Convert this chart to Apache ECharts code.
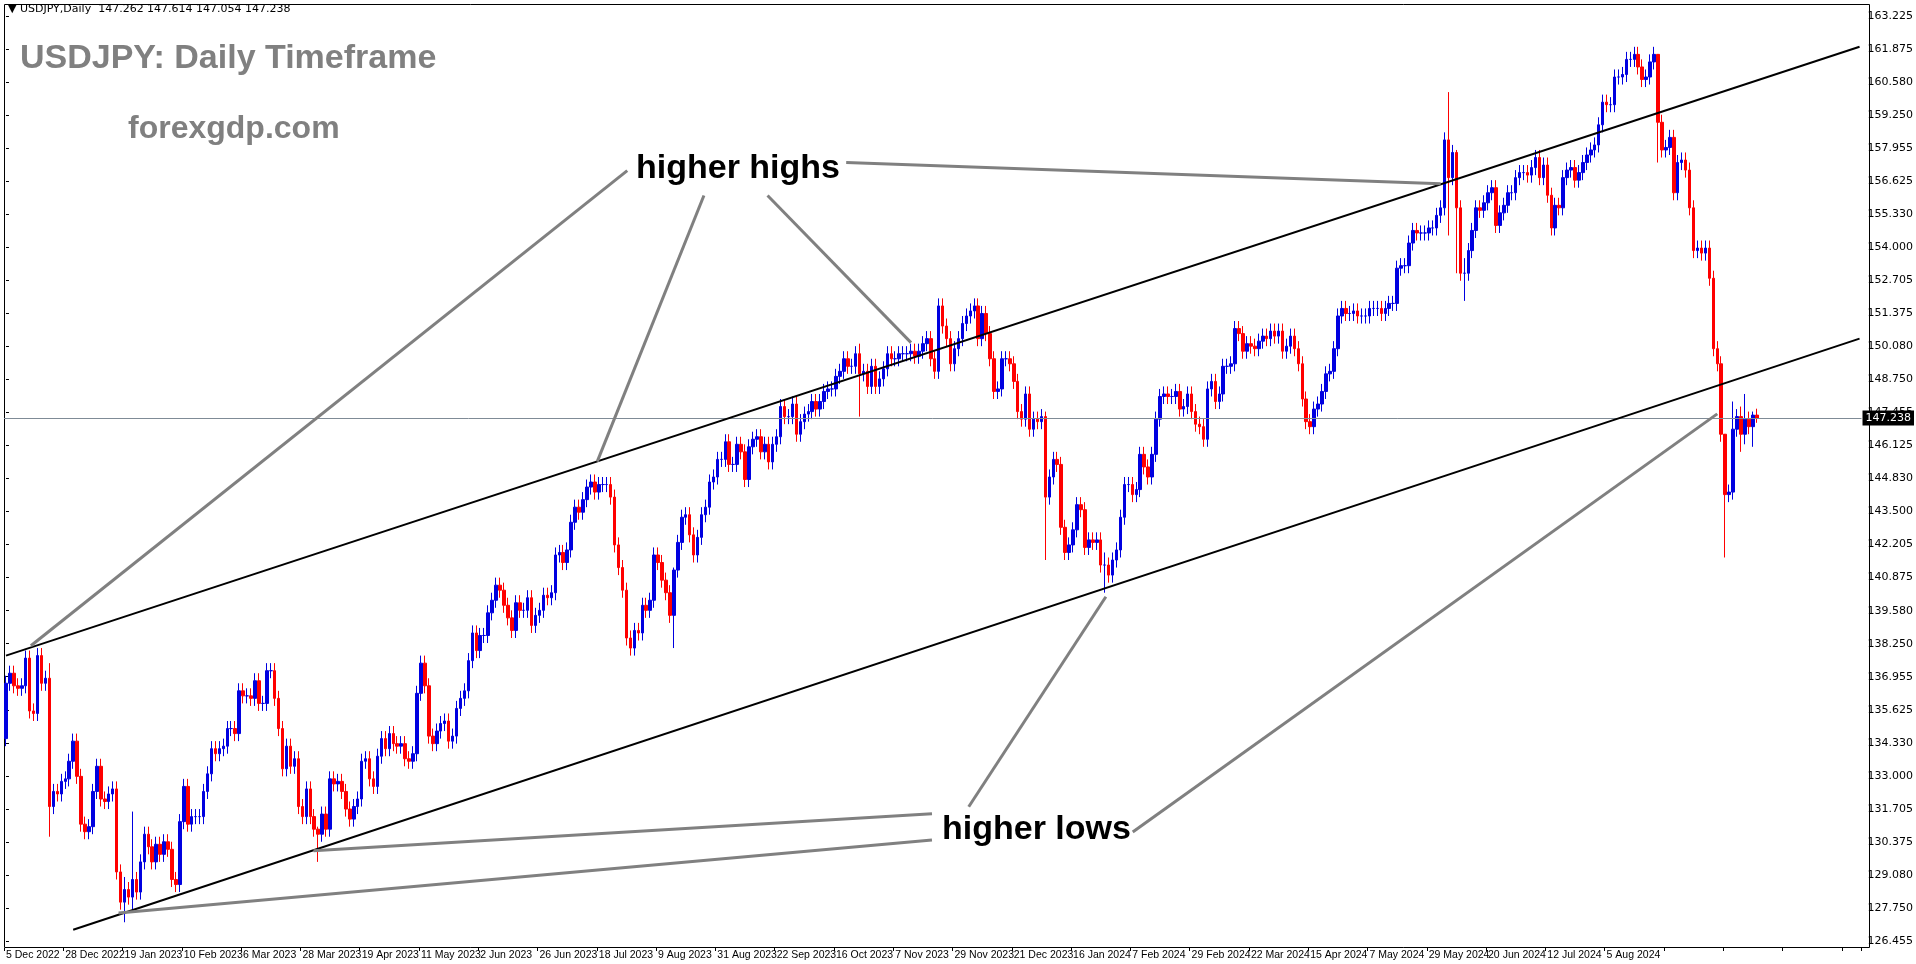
<![CDATA[<!DOCTYPE html>
<html><head><meta charset="utf-8">
<script src="https://cdn.jsdelivr.net/npm/echarts@6/dist/echarts.min.js"></script>
<style>html,body{margin:0;padding:0;background:#fff}#c{width:1916px;height:964px}</style>
</head><body><div id="c"></div>
<script>
// Daily closes (5 Dec 2022 .. 15 Aug 2024), one row per week; [close, low, high] where a spike is visible
const closes = [
136.7,137.1,136.6,136.5,136.6,
137.7,135.6,135.5,137.8,136.7,
136.9,[131.8,130.6,137.5],132.4,132.3,132.8,
132.9,133.6,134.4,133.0,131.1,
130.8,131.0,132.4,133.4,132.1,
132.0,132.3,132.5,129.2,128.0,
[128.5,127.2,129.0],128.2,[128.9,127.6,131.6],128.4,129.6,
130.7,130.2,129.6,130.3,129.9,
130.4,130.1,128.9,128.7,131.2,
132.6,131.1,131.4,131.4,131.4,
132.4,133.1,134.1,133.9,134.1,
134.2,134.9,134.9,134.7,136.4,
136.2,136.2,136.1,136.8,135.9,
135.9,137.2,137.2,136.1,134.9,
133.3,134.2,133.4,133.7,131.8,
131.4,132.5,131.4,130.9,[130.7,129.6,131.0],
131.5,130.9,132.9,132.7,132.8,
132.4,131.7,131.3,131.8,132.1,
133.6,133.7,132.9,132.6,133.8,
134.5,134.1,134.7,134.3,134.2,
134.3,133.7,133.6,133.9,136.3,
137.5,136.6,134.6,134.3,134.8,
135.1,135.2,134.4,134.6,135.7,
136.1,136.4,137.6,138.7,138.0,
138.6,138.6,139.5,140.0,140.6,
140.4,139.8,139.3,138.8,139.9,
139.6,139.6,140.1,139.0,139.4,
139.6,140.2,140.1,140.3,141.8,
141.9,141.5,142.0,143.1,143.7,
143.5,144.0,144.5,144.7,144.3,
144.6,144.6,144.6,144.1,142.2,
141.3,140.4,138.5,138.1,138.8,
138.7,139.8,139.6,140.0,141.8,
141.5,140.8,140.3,139.4,[141.2,138.1,141.3],
142.3,143.3,143.4,142.6,141.8,
142.5,143.4,143.7,144.7,144.9,
145.6,145.6,146.3,145.4,145.4,
146.2,145.9,144.8,146.1,146.4,
146.5,145.9,146.2,145.5,146.2,
146.5,147.7,147.3,147.3,147.8,
146.6,147.1,147.4,147.5,147.9,
147.6,147.9,148.3,148.4,148.4,
148.9,149.1,149.6,149.3,149.3,
149.8,[149.0,147.3,150.2],149.1,148.5,149.3,
148.5,148.8,149.2,149.8,149.6,
149.6,149.8,149.8,149.8,149.9,
149.7,149.9,150.2,150.4,149.6,
149.1,151.7,150.9,150.4,149.4,
150.0,150.4,151.0,151.3,151.5,
151.7,150.4,151.4,150.6,149.6,
148.3,148.4,149.6,149.6,149.4,
148.7,147.5,147.2,148.2,146.8,
147.2,147.1,147.3,[144.1,141.6,147.5],144.9,
145.6,145.4,142.9,141.9,142.2,
142.8,143.8,143.6,142.1,142.4,
142.3,142.4,141.4,[141.4,140.3,141.9],141.0,
141.6,142.0,143.3,144.6,144.6,
144.2,144.4,145.8,145.3,144.9,
145.8,147.2,148.1,148.2,148.1,
148.1,148.3,147.6,147.7,148.2,
147.5,147.0,146.9,146.4,148.4,
148.7,147.9,148.2,149.3,149.3,
149.4,150.8,150.6,149.9,150.2,
150.1,150.0,150.3,150.5,150.4,
150.7,150.5,150.7,149.9,150.1,
150.5,150.0,149.4,148.0,147.1,
146.9,147.6,147.8,148.3,149.0,
149.1,150.0,151.3,151.6,151.4,
151.4,151.5,151.3,151.3,151.3,
151.6,151.6,151.6,151.4,151.6,
151.8,151.8,153.2,153.3,153.3,
154.2,154.7,154.6,154.6,154.6,
154.8,154.8,155.3,155.6,158.3,
[156.8,154.5,160.2],157.8,[155.6,153.0,157.9],153.0,[153.0,151.9,153.6],
153.9,154.7,155.6,155.5,155.8,
156.2,156.4,154.9,155.4,155.7,
156.2,156.2,156.8,157.0,157.0,
156.9,157.2,157.6,156.8,157.3,
156.1,154.8,155.7,155.6,156.8,
157.1,157.2,156.7,157.0,157.4,
157.7,157.9,158.1,158.9,159.8,
159.7,159.7,160.8,160.8,160.9,
161.5,161.5,161.7,161.2,160.7,
160.8,161.4,161.7,[159.0,157.4,161.7],157.9,
158.0,158.4,156.2,157.4,157.5,
157.1,155.6,153.9,154.0,153.8,
154.0,152.8,150.0,149.4,146.6,
[144.2,141.7,146.3],144.3,[146.8,144.0,147.9],147.3,[146.6,145.9,147.7],
[147.2,146.2,148.2],146.9,[147.36,146.1,147.5],[147.238,147.054,147.614]
];
const firstOpen = 134.5;
const dateLabels = ["5 Dec 2022","28 Dec 2022","19 Jan 2023","10 Feb 2023","6 Mar 2023","28 Mar 2023","19 Apr 2023","11 May 2023","2 Jun 2023","26 Jun 2023","18 Jul 2023","9 Aug 2023","31 Aug 2023","22 Sep 2023","16 Oct 2023","7 Nov 2023","29 Nov 2023","21 Dec 2023","16 Jan 2024","7 Feb 2024","29 Feb 2024","22 Mar 2024","15 Apr 2024","7 May 2024","29 May 2024","20 Jun 2024","12 Jul 2024","5 Aug 2024"];
const priceLabels = ["126.455","127.750","129.080","130.375","131.705","133.000","134.330","135.625","136.955","138.250","139.580","140.875","142.205","143.500","144.830","146.125","147.455","148.750","150.080","151.375","152.705","154.000","155.330","156.625","157.955","159.250","160.580","161.875","163.225"];
const lastPrice = 147.238;
const upperChannel = [[0,137.8],[469,162.0]];
const lowerChannel = [[17,126.9],[469,150.4]];
const pointers = [
 [[157.2,157.08],[6.3,138.19]],
 [[176.6,156.09],[149.6,145.51]],
 [[192.7,156.09],[229.0,150.24]],
 [[212.6,157.40],[363.0,156.56]],
 [[234.3,131.51],[77.8,130.04]],
 [[234.3,130.47],[28.5,127.57]],
 [[243.6,131.79],[278.3,140.14]],
 [[285.1,130.79],[433.0,147.41]]
];

const SLOTS = 470, STEP = 15;
const cats = [];
for (let i = 0; i < SLOTS; i++) cats.push(i % STEP === 0 && dateLabels[i / STEP] ? dateLabels[i / STEP] : String(i));
const ohlc = [];
let prev = firstOpen;
closes.forEach(e => {
  const c = Array.isArray(e) ? e[0] : e;
  const lo = Array.isArray(e) ? e[1] : Math.min(prev, c) - 0.3;
  const hi = Array.isArray(e) ? e[2] : Math.max(prev, c) + 0.3;
  ohlc.push([prev, c, lo, hi]);
  prev = c;
});
const yMin = 126.455, yMax = 163.225;
const yInt = (yMax - yMin) / (priceLabels.length - 1);

const lineSeries = (pts, color, width) => ({
  type: 'line', xAxisIndex: 1, data: pts, symbol: 'none', silent: true,
  lineStyle: { color, width }, animation: false, z: 5
});

const chart = echarts.init(document.getElementById('c'));
chart.setOption({
  animation: false,
  backgroundColor: '#ffffff',
  grid: { left: 4, right: 46, top: 16, bottom: 23 },
  xAxis: [{
    type: 'category', data: cats, boundaryGap: true, offset: 7,
    axisLine: { show: false },
    axisTick: { show: true, length: 3, interval: i => i % STEP === 0, lineStyle: { color: '#000' } },
    axisLabel: { interval: i => i % STEP === 0 && !!dateLabels[i / STEP], align: 'left', margin: 2,
      showMinLabel: true, hideOverlap: false,
      color: '#000', fontSize: 10.5, fontFamily: 'Liberation Sans' },
    splitLine: { show: false }
  }, {
    type: 'value', min: -0.5, max: SLOTS - 0.5, show: false
  }],
  yAxis: {
    type: 'value', position: 'right', min: yMin, max: yMax, interval: yInt,
    axisLine: { show: false },
    axisTick: { show: true, length: 3, lineStyle: { color: '#000' } },
    axisLabel: { margin: 6, color: '#000', fontSize: 11, fontFamily: 'DejaVu Sans',
      formatter: v => priceLabels[Math.round((v - yMin) / yInt)] || '' },
    splitLine: { show: false }
  },
  series: [
    {
      type: 'candlestick', data: ohlc, barWidth: 3,
      itemStyle: { color: '#0000e0', color0: '#ff0000', borderColor: '#0000e0', borderColor0: '#ff0000', borderWidth: 1 },
      markLine: {
        silent: true, symbol: 'none',
        lineStyle: { color: '#7f8b96', width: 1, type: 'solid' },
        label: { show: true, position: 'end', distance: 1, formatter: lastPrice.toFixed(3),
          backgroundColor: '#000', color: '#fff', fontSize: 11, fontFamily: 'DejaVu Sans', padding: [2, 3] },
        data: [{ yAxis: lastPrice }]
      }
    },
    lineSeries(upperChannel, '#000', 2),
    lineSeries(lowerChannel, '#000', 2),
    ...pointers.map(p => lineSeries(p, '#808080', 3))
  ],
  graphic: [
    { type: 'rect', shape: { x: 4.5, y: 4.5, width: 1865, height: 943 }, style: { fill: 'none', stroke: '#000', lineWidth: 1 }, silent: true },
    { type: 'text', left: 8, top: 4, style: { text: '▼ USDJPY,Daily  147.262 147.614 147.054 147.238', fill: '#000', font: '11px "DejaVu Sans"' } },
    { type: 'text', left: 20, top: 42, style: { text: 'USDJPY: Daily Timeframe', fill: '#808080', font: 'bold 34px "Liberation Sans"' } },
    { type: 'text', left: 128, top: 113, style: { text: 'forexgdp.com', fill: '#808080', font: 'bold 32px "Liberation Sans"' } },
    { type: 'text', left: 636, top: 152, style: { text: 'higher highs', fill: '#000', font: 'bold 34px "Liberation Sans"' } },
    { type: 'text', left: 942, top: 813, style: { text: 'higher lows', fill: '#000', font: 'bold 34px "Liberation Sans"' } }
  ]
});
</script></body></html>]]>
